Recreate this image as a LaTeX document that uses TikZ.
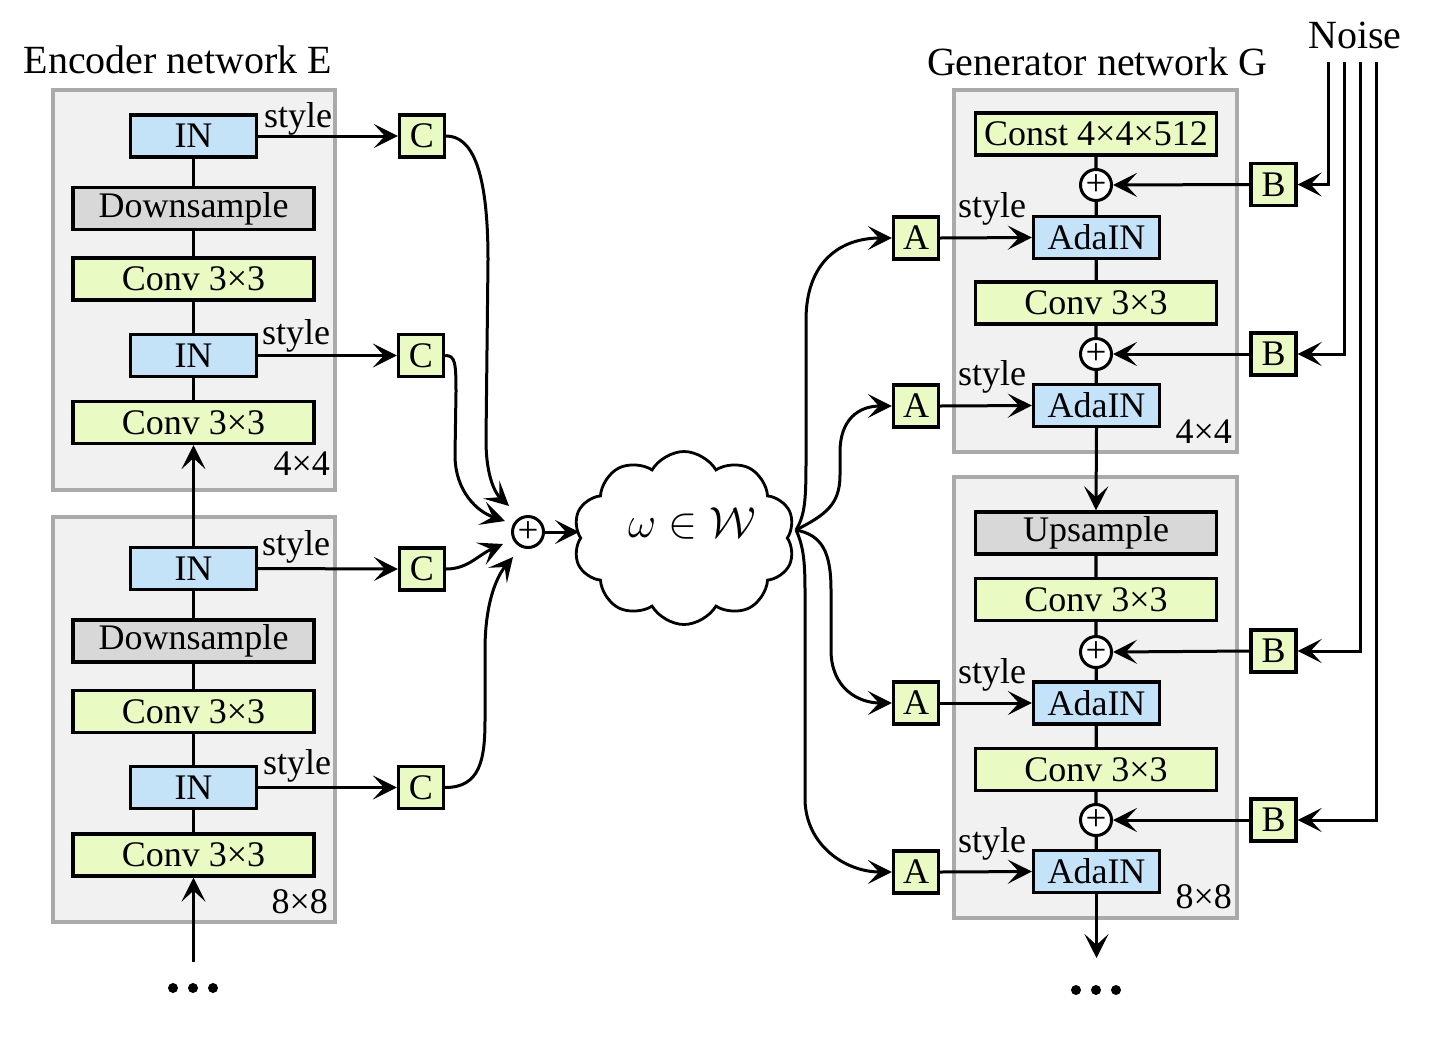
\documentclass[tikz,border=0pt]{standalone}
\usepackage{graphicx}
\usepackage{fontspec}
\setmainfont{Liberation Serif}
\usetikzlibrary{arrows.meta,shapes.symbols,calc}
\definecolor{boxgreen}{RGB}{233,250,194}
\definecolor{inblue}{RGB}{197,227,248}
\definecolor{boxgray}{RGB}{216,216,216}
\definecolor{grpfill}{RGB}{241,241,241}
\definecolor{grpborder}{RGB}{170,170,170}
\begin{document}
\begin{tikzpicture}[x=1pt,y=-1pt,
  >={Stealth[length=24pt,width=24pt,inset=11pt]},
  every node/.style={font=\fontsize{36}{40}\selectfont},
  blk/.style={draw, line width=3.3pt, inner sep=0pt, minimum height=42pt},
  wide/.style={blk, minimum width=241pt},
  narrow/.style={blk, minimum width=126pt, fill=inblue},
  sq/.style={blk, minimum width=45pt, fill=boxgreen},
  conv/.style={wide, fill=boxgreen},
  samp/.style={wide, fill=boxgray},
  grp/.style={draw=grpborder, fill=grpfill, line width=3.5pt},
  link/.style={line width=3.3pt},
  arr/.style={line width=3pt,->},
  addc/.style={circle, draw, fill=white, line width=3pt, minimum size=31pt, inner sep=0pt, font=\fontsize{37}{37}\selectfont},
  lbl/.style={anchor=base west, inner sep=0pt},
  sizelbl/.style={anchor=base east, inner sep=0pt},
  ttl/.style={anchor=base, inner sep=0pt, font=\fontsize{40}{44}\selectfont},
  dot/.style={circle, fill=black, inner sep=0pt, minimum size=10pt}
]
\fill[white] (0,0) rectangle (1432,1058);
\useasboundingbox (0,0) rectangle (1432,1058);

% ---------- titles ----------
\node[ttl] (tE) at (178,73) {Encoder network E};
\node[ttl] (tG) at (1097,75) {Generator network G};
\node[ttl] (tN) at (1355,48) {Noise};

% ---------- encoder groups ----------
\draw[grp] (53,90) rectangle (335,490);
\draw[grp] (53,517) rectangle (335,922);

\node[narrow] (IN1) at (193.5,136) {IN};
\node[samp] (D1) at (193.5,208.5) {Downsample};
\node[conv] (EC1) at (193.5,279) {Conv 3×3};
\node[narrow] (IN2) at (193.5,355.5) {IN};
\node[conv] (EC2) at (193.5,422.5) {Conv 3×3};
\node[sizelbl] (s44e) at (330,475) {4×4};

\node[narrow] (IN3) at (193.5,568.5) {IN};
\node[samp] (D2) at (193.5,641) {Downsample};
\node[conv] (EC3) at (193.5,711.5) {Conv 3×3};
\node[narrow] (IN4) at (193.5,787.5) {IN};
\node[conv] (EC4) at (193.5,855) {Conv 3×3};
\node[sizelbl] (s88e) at (328,913) {8×8};

\draw[link] (IN1) -- (D1) -- (EC1) -- (IN2) -- (EC2);
\draw[link] (IN3) -- (D2) -- (EC3) -- (IN4) -- (EC4);
\draw[arr] (IN3.north) -- (EC2.south);
\coordinate (ein) at (193.5,962);
\draw[arr] (ein) -- (EC4.south);
\node[dot] (ed1) at (173,988) {};
\node[dot] (ed2) at (193,988) {};
\node[dot] (ed3) at (213,988) {};

% C nodes
\node[sq] (C1) at (422,136) {C};
\node[sq] (C2) at (421,355.5) {C};
\node[sq] (C3) at (422,569) {C};
\node[sq] (C4) at (421,787.5) {C};

\draw[arr] (IN1.east) -- (C1.west);
\draw[arr] (IN2.east) -- (C2.west);
\draw[arr] (IN3.east) -- (C3.west);
\draw[arr] (IN4.east) -- (C4.west);
\node[lbl] (st1) at (264,127) {style};
\node[lbl] (st2) at (262,344) {style};
\node[lbl] (st3) at (262,555) {style};
\node[lbl] (st4) at (263,774) {style};

% sum and cloud
\node[addc] (plusE) at (528,532) {+};
\coordinate (e1) at (509,506);
\coordinate (e2) at (505,521);
\coordinate (e3) at (503,544);
\coordinate (e4) at (513,557);
\draw[arr] (C1.east) .. controls (472,136) and (488,170) .. (488,260) -- (486,440) .. controls (486,478) and (496,494) .. (e1);
\draw[arr] (C2.east) .. controls (455,355.5) and (456,362) .. (456,392) -- (455,455) .. controls (455,492) and (478,512) .. (e2);
\draw[arr] (C3.east) .. controls (468,569) and (478,555) .. (e3);
\draw[arr] (C4.east) .. controls (480,787.5) and (485,760) .. (485,720) -- (485,650) .. controls (485,600) and (498,575) .. (e4);

\node[cloud, draw, line width=2.8pt, cloud puffs=10, cloud puff arc=120, minimum width=222pt, minimum height=173pt] (wcloud) at (684,538) {};
\node[font=\fontsize{24.88}{28}\selectfont] (wtxt) at (692,523) {\scalebox{1.75}{$\omega\in\mathcal{W}$}};
\draw[arr] (plusE.east) -- (plusE.east -| wcloud.west);

% ---------- generator groups ----------
\draw[grp] (954,90) rectangle (1237,452);
\draw[grp] (954,477) rectangle (1237,918);

\node[conv] (const) at (1096,134) {Const 4×4×512};
\node[addc] (p1) at (1096,185) {+};
\node[narrow] (ada1) at (1096.5,237.5) {AdaIN};
\node[conv] (GC1) at (1096,303) {Conv 3×3};
\node[addc] (p2) at (1096,354) {+};
\node[narrow] (ada2) at (1096.5,405.5) {AdaIN};
\node[sizelbl] (s44g) at (1232,443) {4×4};

\node[samp] (up) at (1096,533) {Upsample};
\node[conv] (GC2) at (1096,599.5) {Conv 3×3};
\node[addc] (p3) at (1096,652) {+};
\node[narrow] (ada3) at (1096.5,703) {AdaIN};
\node[conv] (GC3) at (1096,769.5) {Conv 3×3};
\node[addc] (p4) at (1096,820) {+};
\node[narrow] (ada4) at (1096.5,871.5) {AdaIN};
\node[sizelbl] (s88g) at (1232,908) {8×8};

\draw[link] (const) -- (p1) -- (ada1) -- (GC1) -- (p2) -- (ada2);
\draw[arr] (ada2.south) -- (up.north);
\draw[link] (up) -- (GC2) -- (p3) -- (ada3) -- (GC3) -- (p4) -- (ada4);
\coordinate (gout) at (1096.5,958);
\draw[arr] (ada4.south) -- (gout);
\node[dot] (gd1) at (1076,990) {};
\node[dot] (gd2) at (1096,990) {};
\node[dot] (gd3) at (1116,990) {};

% A nodes
\node[sq] (A1) at (916,238) {A};
\node[sq] (A2) at (916,406) {A};
\node[sq] (A3) at (916,703) {A};
\node[sq] (A4) at (916,872) {A};
\draw[arr] (A1.east) -- (ada1.west);
\draw[arr] (A2.east) -- (ada2.west);
\draw[arr] (A3.east) -- (ada3.west);
\draw[arr] (A4.east) -- (ada4.west);
\node[lbl] (gs1) at (958,217) {style};
\node[lbl] (gs2) at (958,385) {style};
\node[lbl] (gs3) at (958,683) {style};
\node[lbl] (gs4) at (958,852) {style};

% B nodes
\node[sq] (B1) at (1273.5,184.5) {B};
\node[sq] (B2) at (1273.5,354) {B};
\node[sq] (B3) at (1273.5,651) {B};
\node[sq] (B4) at (1273.5,820) {B};
\draw[arr] (B1.west) -- (p1.east);
\draw[arr] (B2.west) -- (p2.east);
\draw[arr] (B3.west) -- (p3.east);
\draw[arr] (B4.west) -- (p4.east);

% noise
\coordinate (n1) at (1328,62);
\coordinate (n2) at (1344,62);
\coordinate (n3) at (1360,62);
\coordinate (n4) at (1376,62);
\draw[arr] (n1) |- (B1.east);
\draw[arr] (n2) |- (B2.east);
\draw[arr] (n3) |- (B3.east);
\draw[arr] (n4) |- (B4.east);

% cloud to A
\coordinate (wout) at (796,530);
\draw[arr] (wout) .. controls (805,515) and (806,500) .. (806,460) -- (806,320) .. controls (806,262) and (840,238) .. (A1.west);
\draw[arr] (wout) .. controls (825,515) and (840,505) .. (840,475) -- (840,452) .. controls (840,420) and (858,406) .. (A2.west);
\draw[arr] (wout) .. controls (822,535) and (831,552) .. (831,590) -- (831,650) .. controls (831,688) and (858,703) .. (A3.west);
\draw[arr] (wout) .. controls (803,545) and (805,560) .. (805,590) -- (805,800) .. controls (806,845) and (845,872) .. (A4.west);
\end{tikzpicture}
\end{document}
